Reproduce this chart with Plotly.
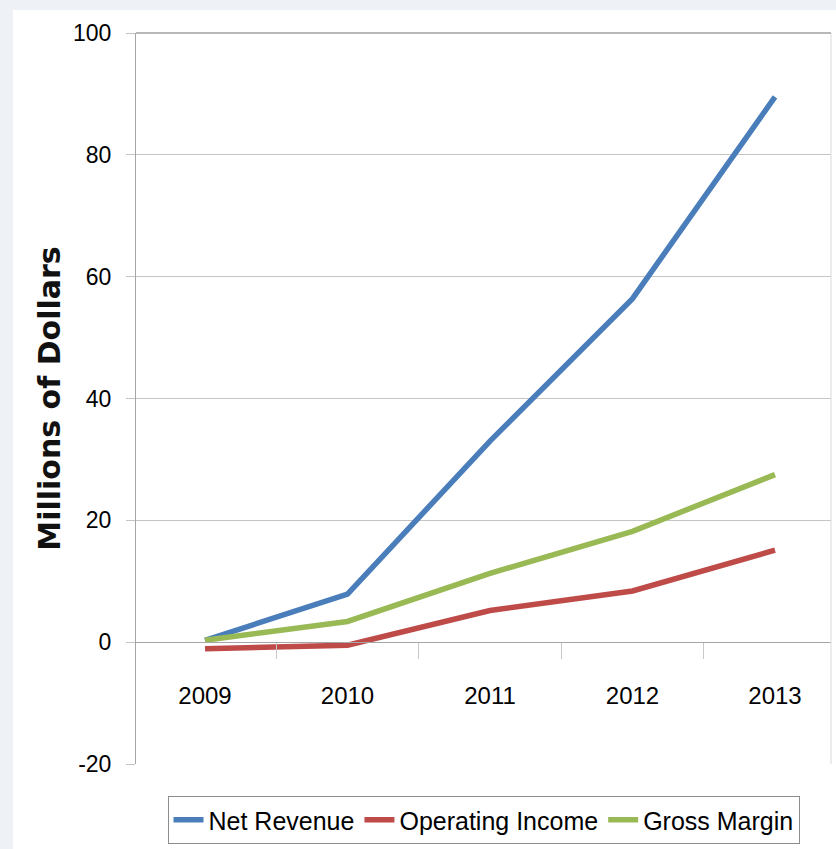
import plotly.graph_objects as go

years = ["2009", "2010", "2011", "2012", "2013"]
net_revenue = [0.3, 7.9, 33.0, 56.4, 89.5]
operating_income = [-1.1, -0.5, 5.2, 8.4, 15.1]
gross_margin = [0.3, 3.4, 11.3, 18.2, 27.5]
y_ticks = [-20, 0, 20, 40, 60, 80, 100]
y_tick_text = ["-20", "0", "20", "40", "60", "80", "100"]

W, H = 836, 849
L, R, T, B = 136, 5, 33, 85
pw, ph = W - L - R, H - T - B

font_main = "Liberation Sans, Arial, sans-serif"

fig = go.Figure()
series = [("Net Revenue", net_revenue, "#4a7ebb"),
          ("Operating Income", operating_income, "#be4b48"),
          ("Gross Margin", gross_margin, "#98b954")]
for name, vals, col in series:
    fig.add_trace(go.Scatter(x=years, y=vals, name=name, mode="lines",
                             line=dict(color=col, width=5.5)))

ymin, ymax = -20, 100
zero_pos = (0 - ymin) / (ymax - ymin)

fig.update_layout(
    width=W, height=H,
    margin=dict(l=L, r=R, t=T, b=B, pad=0),
    paper_bgcolor="#eef2f6",
    plot_bgcolor="white",
    showlegend=True,
    legend=dict(orientation="h", x=0.5, xanchor="center", y=(T + ph - 820) / ph, yanchor="middle",
                font=dict(family=font_main, size=25, color="#000"),
                bgcolor="white", bordercolor="#8c8c8c", borderwidth=1,
                itemwidth=30, tracegroupgap=0),
    xaxis=dict(type="category", range=[-(205 - L) / 142.5, 4 + (831 - 775) / 142.5],
               anchor="free", position=zero_pos,
               showline=True, linecolor="#a6a6a6", linewidth=1,
               showgrid=False, ticks="outside", tickson="boundaries", ticklen=16,
               tickcolor="#c8c8c8", ticklabelstandoff=32,
               tickfont=dict(family=font_main, size=24, color="#000")),
    yaxis=dict(range=[ymin, ymax], tickvals=y_ticks, ticktext=y_tick_text,
               showline=True, linecolor="#a6a6a6",
               linewidth=1, showgrid=True, gridcolor="#c4c4c4", gridwidth=1, zeroline=False,
               ticks="outside", ticklen=9, tickcolor="#c4c4c4", ticklabelstandoff=10,
               tickfont=dict(family=font_main, size=23, color="#000")),
    shapes=[
        dict(type="rect", xref="paper", yref="paper", layer="below",
             x0=(13 - L) / pw, x1=(W - L) / pw, y0=(T + ph - H) / ph, y1=(T + ph - 10) / ph,
             fillcolor="white", line=dict(width=0)),
        dict(type="line", xref="x domain", yref="y domain", x0=1, x1=1, y0=0, y1=1,
             line=dict(color="#dadada", width=1)),
        dict(type="line", xref="x domain", yref="y domain", x0=0, x1=1, y0=1, y1=1,
             line=dict(color="#a0a0a0", width=1.5)),
    ],
)
fig.update_yaxes(title=dict(text="Millions of Dollars", standoff=3,
                            font=dict(family="DejaVu Sans", size=30, color="#111", weight="bold")))

fig.write_html("out.html", config={"displayModeBar": False},
               post_script="document.body.style.margin='0';document.body.style.background='#eef2f6';")
